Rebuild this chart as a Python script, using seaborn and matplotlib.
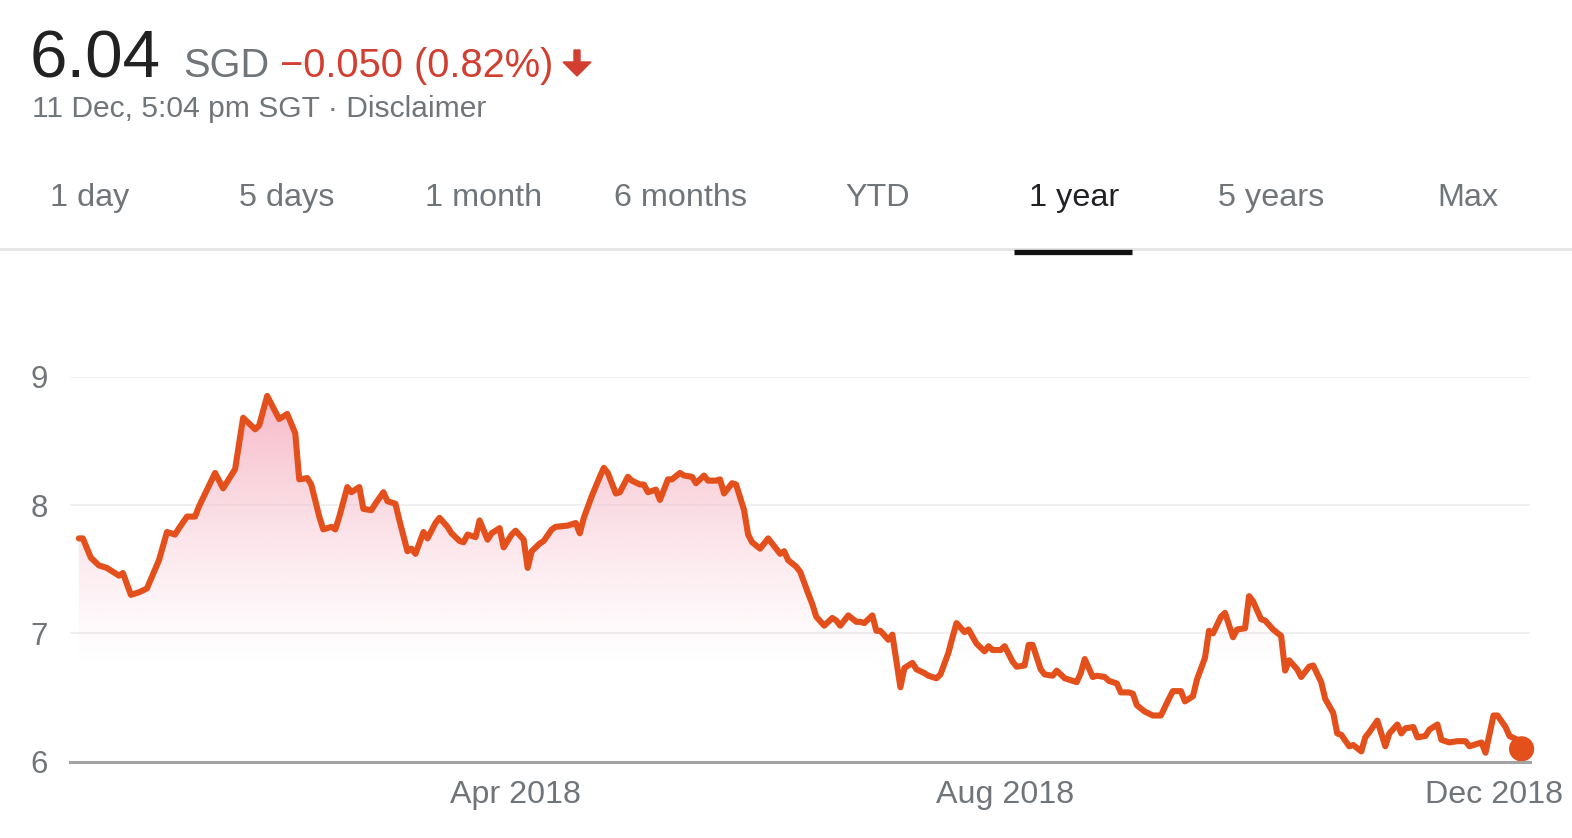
import numpy as np
import pandas as pd
import matplotlib
matplotlib.use("Agg")
import matplotlib.pyplot as plt
import matplotlib.dates as mdates
from matplotlib.patches import FancyArrow
import seaborn as sns

# ---------------- data ----------------
dates = [
    "2017-12-13", "2017-12-14", "2017-12-16", "2017-12-18", "2017-12-20", "2017-12-22",
    "2017-12-23", "2017-12-24", "2017-12-26", "2017-12-28", "2017-12-30", "2018-01-02",
    "2018-01-04", "2018-01-06", "2018-01-07", "2018-01-09", "2018-01-11", "2018-01-12",
    "2018-01-16", "2018-01-18", "2018-01-20", "2018-01-21", "2018-01-23", "2018-01-26",
    "2018-01-27", "2018-01-29", "2018-02-01", "2018-02-03", "2018-02-05", "2018-02-06",
    "2018-02-08", "2018-02-09", "2018-02-11", "2018-02-12", "2018-02-14", "2018-02-15",
    "2018-02-16", "2018-02-18", "2018-02-19", "2018-02-21", "2018-02-22", "2018-02-24",
    "2018-02-25", "2018-02-27", "2018-02-28", "2018-03-02", "2018-03-03", "2018-03-05",
    "2018-03-06", "2018-03-07", "2018-03-09", "2018-03-10", "2018-03-12", "2018-03-13",
    "2018-03-15", "2018-03-16", "2018-03-18", "2018-03-19", "2018-03-20", "2018-03-22",
    "2018-03-23", "2018-03-25", "2018-03-26", "2018-03-28", "2018-03-29", "2018-03-31",
    "2018-04-01", "2018-04-03", "2018-04-04", "2018-04-05", "2018-04-07", "2018-04-08",
    "2018-04-10", "2018-04-11", "2018-04-14", "2018-04-16", "2018-04-17", "2018-04-18",
    "2018-04-20", "2018-04-22", "2018-04-23", "2018-04-24", "2018-04-26", "2018-04-27",
    "2018-04-29", "2018-04-30", "2018-05-02", "2018-05-03", "2018-05-04", "2018-05-06",
    "2018-05-07", "2018-05-09", "2018-05-10", "2018-05-12", "2018-05-13", "2018-05-15",
    "2018-05-16", "2018-05-18", "2018-05-19", "2018-05-21", "2018-05-22", "2018-05-23",
    "2018-05-25", "2018-05-26", "2018-05-28", "2018-05-29", "2018-05-30", "2018-06-01",
    "2018-06-03", "2018-06-04", "2018-06-06", "2018-06-07", "2018-06-08", "2018-06-10",
    "2018-06-11", "2018-06-13", "2018-06-14", "2018-06-15", "2018-06-17", "2018-06-19",
    "2018-06-20", "2018-06-21", "2018-06-23", "2018-06-25", "2018-06-26", "2018-06-27",
    "2018-06-29", "2018-06-30", "2018-07-01", "2018-07-03", "2018-07-04", "2018-07-06",
    "2018-07-07", "2018-07-09", "2018-07-10", "2018-07-12", "2018-07-13", "2018-07-15",
    "2018-07-16", "2018-07-18", "2018-07-19", "2018-07-20", "2018-07-22", "2018-07-23",
    "2018-07-25", "2018-07-27", "2018-07-28", "2018-07-29", "2018-07-31", "2018-08-01",
    "2018-08-03", "2018-08-04", "2018-08-06", "2018-08-07", "2018-08-08", "2018-08-10",
    "2018-08-11", "2018-08-13", "2018-08-14", "2018-08-16", "2018-08-17", "2018-08-19",
    "2018-08-20", "2018-08-21", "2018-08-23", "2018-08-24", "2018-08-26", "2018-08-27",
    "2018-08-29", "2018-08-30", "2018-09-01", "2018-09-02", "2018-09-03", "2018-09-05",
    "2018-09-07", "2018-09-09", "2018-09-11", "2018-09-12", "2018-09-14", "2018-09-15",
    "2018-09-17", "2018-09-18", "2018-09-20", "2018-09-21", "2018-09-22", "2018-09-24",
    "2018-09-25", "2018-09-27", "2018-09-28", "2018-09-30", "2018-10-01", "2018-10-02",
    "2018-10-04", "2018-10-05", "2018-10-07", "2018-10-09", "2018-10-10", "2018-10-11",
    "2018-10-13", "2018-10-14", "2018-10-16", "2018-10-17", "2018-10-19", "2018-10-20",
    "2018-10-22", "2018-10-23", "2018-10-24", "2018-10-26", "2018-10-27", "2018-10-29",
    "2018-10-30", "2018-10-31", "2018-11-02", "2018-11-04", "2018-11-05", "2018-11-07",
    "2018-11-08", "2018-11-09", "2018-11-11", "2018-11-12", "2018-11-14", "2018-11-15",
    "2018-11-17", "2018-11-18", "2018-11-20", "2018-11-22", "2018-11-24", "2018-11-25",
    "2018-11-28", "2018-11-29", "2018-12-01", "2018-12-02", "2018-12-04", "2018-12-05",
    "2018-12-07", "2018-12-08",
]
prices = [
    7.74, 7.74, 7.59, 7.53, 7.51, 7.47, 7.45, 7.47, 7.30, 7.32, 7.35, 7.57,
    7.79, 7.77, 7.82, 7.91, 7.91, 7.99, 8.25, 8.13, 8.23, 8.28, 8.68, 8.59,
    8.62, 8.85, 8.67, 8.71, 8.56, 8.20, 8.21, 8.16, 7.91, 7.81, 7.83, 7.81,
    7.91, 8.14, 8.10, 8.14, 7.97, 7.96, 8.01, 8.10, 8.03, 8.01, 7.88, 7.64,
    7.66, 7.62, 7.79, 7.74, 7.86, 7.90, 7.83, 7.78, 7.72, 7.71, 7.77, 7.75,
    7.88, 7.73, 7.78, 7.82, 7.67, 7.77, 7.80, 7.73, 7.51, 7.64, 7.70, 7.72,
    7.81, 7.83, 7.84, 7.86, 7.78, 7.90, 8.07, 8.22, 8.29, 8.25, 8.09, 8.10,
    8.22, 8.19, 8.16, 8.16, 8.10, 8.12, 8.04, 8.20, 8.20, 8.25, 8.23, 8.22,
    8.17, 8.23, 8.19, 8.19, 8.20, 8.09, 8.17, 8.16, 7.96, 7.77, 7.71, 7.66,
    7.74, 7.70, 7.62, 7.64, 7.57, 7.52, 7.48, 7.31, 7.23, 7.13, 7.06, 7.12,
    7.10, 7.06, 7.14, 7.09, 7.09, 7.08, 7.14, 7.02, 7.02, 6.95, 6.99, 6.58,
    6.73, 6.77, 6.72, 6.69, 6.67, 6.65, 6.68, 6.85, 6.97, 7.08, 7.01, 7.03,
    6.92, 6.86, 6.90, 6.87, 6.87, 6.90, 6.78, 6.74, 6.75, 6.91, 6.91, 6.72,
    6.68, 6.67, 6.71, 6.65, 6.64, 6.62, 6.69, 6.80, 6.66, 6.67, 6.66, 6.63,
    6.61, 6.54, 6.54, 6.53, 6.44, 6.39, 6.36, 6.36, 6.49, 6.55, 6.55, 6.47,
    6.51, 6.64, 6.81, 7.02, 7.00, 7.13, 7.16, 6.97, 7.03, 7.04, 7.29, 7.25,
    7.11, 7.10, 7.03, 6.98, 6.71, 6.79, 6.72, 6.66, 6.74, 6.75, 6.62, 6.49,
    6.38, 6.22, 6.21, 6.12, 6.13, 6.08, 6.19, 6.23, 6.32, 6.12, 6.22, 6.29,
    6.22, 6.26, 6.27, 6.19, 6.20, 6.25, 6.29, 6.17, 6.15, 6.16, 6.16, 6.12,
    6.15, 6.07, 6.36, 6.36, 6.27, 6.20, 6.17, 6.10,
]
y_ticks = [6, 7, 8, 9]
x_tick_dates = ["2018-04-01", "2018-08-01", "2018-12-01"]
x_tick_labels = ["Apr 2018", "Aug 2018", "Dec 2018"]
tabs = ["1 day", "5 days", "1 month", "6 months", "YTD", "1 year", "5 years", "Max"]
active_tab = "1 year"
price_text = "6.04"
currency_text = "SGD"
change_text = "\u22120.050 (0.82%)"
time_text = "11 Dec, 5:04 pm SGT \u00b7 Disclaimer"

df = pd.DataFrame({"date": pd.to_datetime(dates), "price": prices})

# ---------------- style ----------------
LINE = "#e4501c"
RED = "#d23f31"
GREY = "#70757a"
sns.set_style("white")
plt.rcParams["font.family"] = ["Liberation Sans", "DejaVu Sans"]

W, H = 1572, 838
fig = plt.figure(figsize=(W / 100, H / 100), dpi=100)

def px(x, y):
    return x / W, 1 - y / H

# axes placement (pixels)
ax_l, ax_r, ax_t, ax_b = 70, 1530, 376.7, 761.7
ax = fig.add_axes([ax_l / W, 1 - ax_b / H, (ax_r - ax_l) / W, (ax_b - ax_t) / H])

sns.lineplot(data=df, x="date", y="price", ax=ax, color=LINE, lw=4.4,
             solid_joinstyle="round", solid_capstyle="round", zorder=5)

# gradient fill under the line
poly = ax.fill_between(df["date"], df["price"], 6, color="none", lw=0)
x0 = mdates.date2num(pd.Timestamp("2018-04-01")) - 111.2
x1 = mdates.date2num(pd.Timestamp("2018-04-01")) + 253.1
ny = 300
vals = np.linspace(9, 6, ny)
alpha = np.clip((vals - 6.75) / (8.85 - 6.75), 0, 1) ** 1.3 * 0.95
rgba = np.zeros((ny, 2, 4))
rgba[..., 0] = 0xf6 / 255
rgba[..., 1] = 0xb6 / 255
rgba[..., 2] = 0xc6 / 255
rgba[..., 3] = alpha[:, None]
im = ax.imshow(rgba, extent=[x0, x1, 6, 9], aspect="auto", origin="upper", zorder=1,
               interpolation="bilinear")
im.set_clip_path(poly.get_paths()[0], transform=ax.transData)

# final point
last = df.iloc[[-1]]
sns.scatterplot(data=last, x="date", y="price", ax=ax, color=LINE, s=330,
                edgecolor="none", zorder=6, legend=False, clip_on=False)

ax.set_xlim(x0, x1)
ax.set_ylim(6, 9)
ax.set_yticks(y_ticks)
ax.set_yticklabels([str(v) for v in y_ticks])
ax.set_xticks(pd.to_datetime(x_tick_dates))
ax.set_xticklabels(x_tick_labels)
ax.set_xlabel("")
ax.set_ylabel("")
ax.grid(axis="y", color="#efefef", lw=1.3)
ax.grid(axis="x", visible=False)
for s in ["top", "right", "left"]:
    ax.spines[s].set_visible(False)
ax.spines["bottom"].set_color("#a3a3a3")
ax.spines["bottom"].set_linewidth(2.2)
ax.spines["bottom"].set_zorder(7)
ax.tick_params(axis="y", length=0, pad=16, labelsize=22.5, labelcolor=GREY)
ax.tick_params(axis="x", length=14, width=1.3, color="#a3a3a3", pad=-1,
               labelsize=23.2, labelcolor=GREY, direction="out")
ax.set_facecolor("white")

# ---------------- header ----------------
fig.text(*px(30, 77), price_text, fontsize=48.5, color="#222222", va="baseline", ha="left")
fig.text(*px(183, 77), currency_text, fontsize=28.6, color=GREY, va="baseline", ha="left")
fig.text(*px(280, 77), change_text, fontsize=28.7, color=RED, va="baseline", ha="left")
arrow = FancyArrow(577, H - 50, 0, -26, width=6, head_width=28, head_length=14,
                   length_includes_head=True, color=RED, transform=None)
fig.patches.append(arrow)
fig.text(*px(32, 117), time_text, fontsize=21.6, color=GREY, va="baseline", ha="left")

# tabs
centers = np.linspace(90, 1468, len(tabs))
for c, t in zip(centers, tabs):
    fig.text(*px(c, 206), t, fontsize=23.3, va="baseline", ha="center",
             color="#202124" if t == active_tab else GREY)
fig.add_artist(plt.Line2D([0, 1], [1 - 249 / H] * 2, color="#e6e6e6", lw=2.2,
                          transform=fig.transFigure))
fig.add_artist(plt.Line2D([1014 / W, 1132 / W], [1 - 251.5 / H] * 2, color="#111111",
                          lw=3.8, solid_capstyle="butt", transform=fig.transFigure))

fig.savefig("out.png", dpi=100, facecolor="white")
